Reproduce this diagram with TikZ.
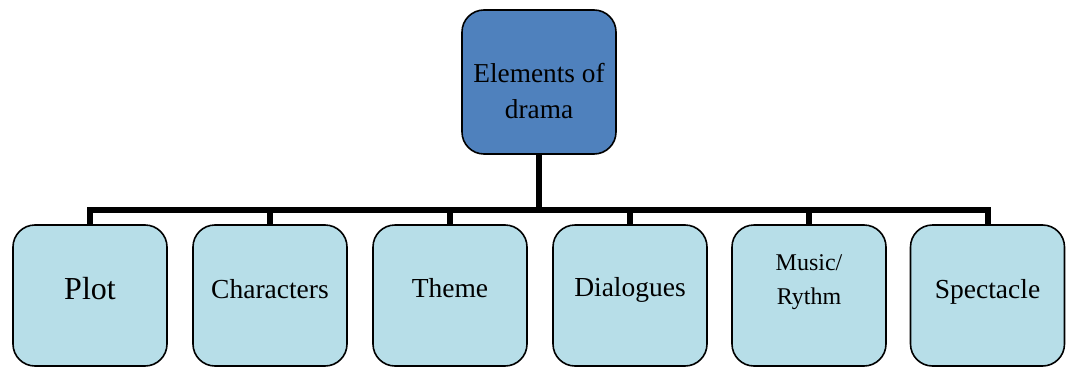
\documentclass[tikz,border=0pt]{standalone}
\usepackage{fontspec}
\setmainfont{Liberation Serif}
\definecolor{topblue}{HTML}{4F81BD}
\definecolor{lightteal}{HTML}{B7DEE8}
\begin{document}
\begin{tikzpicture}[x=1pt,y=-1pt,
  boxbase/.style={draw=black,line width=1.6pt,rounded corners=22pt,minimum width=154pt,inner sep=0pt},
  topbox/.style={boxbase,fill=topblue,minimum height=144pt},
  childbox/.style={boxbase,fill=lightteal,minimum height=141pt},
  lbl/.style={anchor=base,inner sep=0pt,text=black,align=center},
  conn/.style={line width=6pt,draw=black}
]
\useasboundingbox (0,0) rectangle (1066,367);
% boxes
\node[topbox] (root) at (539,82) {};
\node[childbox] (plot) at (90,295.5) {};
\node[childbox] (char) at (270,295.5) {};
\node[childbox] (theme) at (450,295.5) {};
\node[childbox] (dial) at (630,295.5) {};
\node[childbox] (music) at (809,295.5) {};
\node[childbox] (spec) at (987.5,295.5) {};
% labels (base anchor = last line baseline)
\node[lbl,font=\fontsize{27.3}{35.6}\selectfont] (rootT) at (539,118.3) {Elements of\\drama};
\node[lbl,font=\fontsize{32}{38}\selectfont] (plotT) at (90,299) {Plot};
\node[lbl,font=\fontsize{27.5}{33}\selectfont] (charT) at (270,298.3) {Characters};
\node[lbl,font=\fontsize{27.5}{33}\selectfont] (themeT) at (450,297.5) {Theme};
\node[lbl,font=\fontsize{27.5}{33}\selectfont] (dialT) at (630,296) {Dialogues};
\node[lbl,font=\fontsize{24}{33.3}\selectfont] (musicT) at (809,304) {Music/\\Rythm};
\node[lbl,font=\fontsize{27.5}{33}\selectfont] (specT) at (987.5,298.3) {Spectacle};
% connectors
\coordinate (bus) at (539,210.3);
\draw[conn] (root.south) -- (bus);
\draw[conn,line cap=rect] (plot.north |- bus) -- (spec.north |- bus);
\foreach \n in {plot,char,theme,dial,music,spec} {
  \draw[conn] (\n.north |- bus) -- (\n.north);
}
\end{tikzpicture}
\end{document}
